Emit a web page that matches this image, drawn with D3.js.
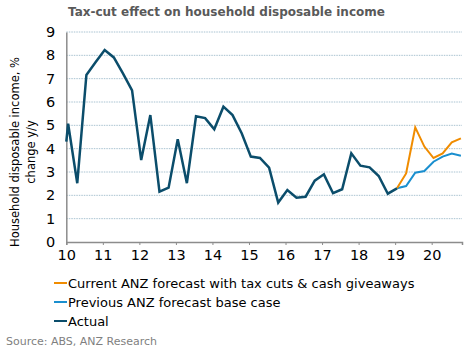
<!DOCTYPE html>
<html><head><meta charset="utf-8">
<script src="https://cdn.jsdelivr.net/npm/d3@7"></script>
<style>body{margin:0;background:#fff}svg{display:block}text{font-family:"DejaVu Sans",Verdana,sans-serif}</style>
</head><body>
<svg id="c" width="471" height="356"></svg>
<script>
const title = "Tax-cut effect on household disposable income";
const yTitle = ["Household disposable income, %", "change y/y"];
const source = "Source: ABS, ANZ Research";
const xTicks = [10, 11, 12, 13, 14, 15, 16, 17, 18, 19, 20];
const yTicks = [0, 1, 2, 3, 4, 5, 6, 7, 8, 9];
// quarterly observations (year position within the 2000s)
const firstQuarter = 10.05;
const actualStart = [10.0, 4.3];
const actual = [5.07, 2.52, 7.16, 7.7, 8.23, 7.91, 7.23, 6.5, 3.51, 5.44, 2.16, 2.33, 4.4, 2.52,
  5.39, 5.31, 4.83, 5.8, 5.44, 4.66, 3.66, 3.6, 3.19, 1.69, 2.23, 1.9, 1.94, 2.63, 2.9, 2.09,
  2.26, 3.8, 3.27, 3.2, 2.83, 2.07, 2.3];
const previous = [2.3, 2.4, 2.97, 3.04, 3.44, 3.66, 3.79, 3.7];
const current = [2.3, 2.94, 4.91, 4.09, 3.6, 3.8, 4.27, 4.44];
const seriesNames = ["Current ANZ forecast with tax cuts & cash giveaways", "Previous ANZ forecast base case", "Actual"];
const seriesColors = ["#F08C00", "#1A8FCF", "#0B4D6B"];

const svg = d3.select("#c");
const x = d3.scaleLinear().domain([10, 20.83]).range([66.3, 462]);
const y = d3.scaleLinear().domain([0, 9]).range([242, 32]);
const qx = i => firstQuarter + i * 0.25;

svg.append("text").attr("x", 68).attr("y", 16).attr("font-size", 12).attr("font-weight", "bold")
  .attr("fill", "#595959").text(title);

// gridlines
svg.append("g").selectAll("line").data(yTicks.filter(d => d > 0)).join("line")
  .attr("x1", x(10)).attr("x2", x(20.83)).attr("y1", d => y(d)).attr("y2", d => y(d))
  .attr("stroke", "#A9C3D1").attr("stroke-width", 1).attr("stroke-dasharray", "1.5,1");

// axes
const xAxis = svg.append("g").attr("transform", `translate(0,${y(0)})`)
  .call(d3.axisBottom(x).tickValues(xTicks).tickFormat(d3.format("d")).tickSize(3).tickPadding(5));
const yAxis = svg.append("g").attr("transform", `translate(${x(10)},0)`)
  .call(d3.axisLeft(y).tickValues(yTicks).tickSize(0).tickPadding(11));
[xAxis, yAxis].forEach(g => {
  g.select(".domain").attr("stroke", "#8C8C8C").attr("stroke-width", 1.5);
  g.selectAll(".tick line").attr("stroke", "#8C8C8C");
  g.selectAll("text").attr("font-size", 14.5).attr("fill", "#000").attr("font-family", "DejaVu Sans, sans-serif");
});

// y title
const yt = svg.append("text").attr("transform", `translate(19,152) rotate(-90)`)
  .attr("text-anchor", "middle").attr("font-size", 11.5).attr("fill", "#000");
yt.append("tspan").attr("x", 0).attr("dy", 0).text(yTitle[0]);
yt.append("tspan").attr("x", 0).attr("dy", 16).text(yTitle[1]);

const line = d3.line().x(d => x(d[0])).y(d => y(d[1]));
const actualPts = [actualStart].concat(actual.map((v, i) => [qx(i), v]));
const prevPts = previous.map((v, i) => [qx(actual.length - 1 + i), v]);
const curPts = current.map((v, i) => [qx(actual.length - 1 + i), v]);

svg.append("path").datum(prevPts).attr("d", line).attr("fill", "none")
  .attr("stroke", seriesColors[1]).attr("stroke-width", 2);
svg.append("path").datum(curPts).attr("d", line).attr("fill", "none")
  .attr("stroke", seriesColors[0]).attr("stroke-width", 2);
svg.append("path").datum(actualPts).attr("d", line).attr("fill", "none")
  .attr("stroke", seriesColors[2]).attr("stroke-width", 2.5).attr("stroke-linejoin", "miter");

// legend
const lg = svg.append("g").selectAll("g").data(seriesNames).join("g")
  .attr("transform", (d, i) => `translate(54,${283 + i * 19})`);
lg.append("line").attr("x1", 0).attr("x2", 13).attr("stroke", (d, i) => seriesColors[i]).attr("stroke-width", 2);
lg.append("text").attr("x", 14).attr("y", 5).attr("font-size", 13).attr("fill", "#000").text(d => d);

svg.append("text").attr("x", 6).attr("y", 345).attr("font-size", 11).attr("fill", "#7F7F7F").text(source);
</script>
</body></html>
